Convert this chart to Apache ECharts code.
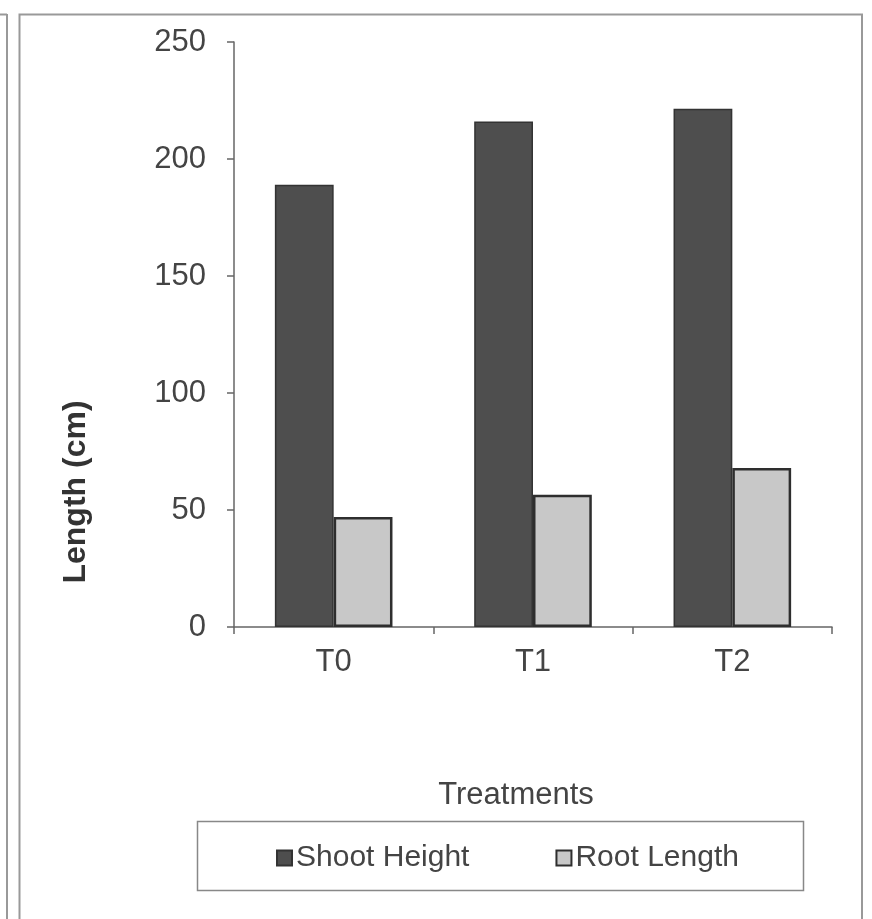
<!DOCTYPE html>
<html>
<head>
<meta charset="utf-8">
<script src="https://cdn.jsdelivr.net/npm/echarts@6/dist/echarts.min.js"></script>
<style>
html,body{margin:0;padding:0;background:#fff;}
#c{width:872px;height:919px;}
</style>
</head>
<body>
<div id="c"></div>
<script>
var categories = ['T0', 'T1', 'T2'];
var shootHeight = [189, 216, 221.5];
var rootLength = [47, 56.5, 68];
var yTicks = [0, 50, 100, 150, 200, 250];
var seriesNames = ['Shoot Height', 'Root Length'];

var chart = echarts.init(document.getElementById('c'));
var font = 'Liberation Sans, Arial, sans-serif';
chart.setOption({
  animation: false,
  backgroundColor: '#fff',
  grid: { left: 234, right: 40, top: 42, bottom: 292, containLabel: false },
  legend: {
    left: 271, top: 838, itemWidth: 15, itemHeight: 15, itemGap: 86,
    icon: 'rect',
    textStyle: { fontFamily: font, fontSize: 30, color: '#444', padding: [0, 0, 0, -1] },
    data: seriesNames
  },
  xAxis: {
    type: 'category', data: categories,
    axisLine: { lineStyle: { color: '#666', width: 1.5 } },
    axisTick: { show: true, length: 7, lineStyle: { color: '#666', width: 1.5 } },
    axisLabel: { fontFamily: font, fontSize: 31, color: '#444', margin: 20 }
  },
  yAxis: {
    type: 'value', min: yTicks[0], max: yTicks[yTicks.length - 1], interval: 50,
    axisLine: { show: true, lineStyle: { color: '#666', width: 1.5 } },
    axisTick: { show: true, length: 7, lineStyle: { color: '#666', width: 1.5 } },
    splitLine: { show: false },
    axisLabel: { fontFamily: font, fontSize: 31, color: '#444', margin: 28 }
  },
  series: [
    {
      name: seriesNames[0], type: 'bar', data: shootHeight,
      barGap: '0%', barCategoryGap: '41%',
      itemStyle: { color: '#4e4e4e', borderColor: '#333', borderWidth: 1.5 }
    },
    {
      name: seriesNames[1], type: 'bar', data: rootLength,
      itemStyle: { color: '#c8c8c8', borderColor: '#2e2e2e', borderWidth: 2.5 }
    }
  ],
  graphic: [
    { type: 'rect', shape: { x: 19.5, y: 14.5, width: 842.5, height: 940 }, style: { fill: null, stroke: '#999', lineWidth: 2 }, silent: true },
    { type: 'line', shape: { x1: 7, y1: 14, x2: 7, y2: 919 }, style: { stroke: '#999', lineWidth: 2 }, silent: true },
    { type: 'line', shape: { x1: 0, y1: 14.5, x2: 7, y2: 14.5 }, style: { stroke: '#999', lineWidth: 2 }, silent: true },
    { type: 'rect', shape: { x: 197.5, y: 821.5, width: 606, height: 69 }, style: { fill: null, stroke: '#888', lineWidth: 1.5 }, silent: true },
    { type: 'text', x: 516, y: 795, style: { text: 'Treatments', font: '31px ' + font, fill: '#444', textAlign: 'center', textVerticalAlign: 'middle' } },
    { type: 'text', x: 76, y: 492, rotation: Math.PI / 2, style: { text: 'Length (cm)', font: 'bold 32px ' + font, fill: '#333', textAlign: 'center', textVerticalAlign: 'middle' } }
  ]
});
</script>
</body>
</html>
